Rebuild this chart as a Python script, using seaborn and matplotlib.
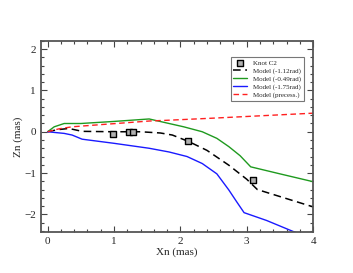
import matplotlib
matplotlib.use("Agg")
import matplotlib.pyplot as plt
import seaborn as sns
import pandas as pd
from matplotlib.ticker import MultipleLocator

# knot positions (mas)
knot_x = [0.99, 1.22, 1.29, 2.11, 3.10]
knot_z = [-0.05, 0.0, 0.0, -0.23, -1.17]

# model with -1.12 rad (black dashed)
m112_x = [0.0, 0.15, 0.32, 0.52, 1.0, 1.4, 1.7, 1.88, 2.13, 2.4, 2.73, 3.0, 3.16, 3.5, 4.0]
m112_z = [0.0, 0.05, 0.08, 0.01, 0.0, 0.0, -0.03, -0.08, -0.24, -0.45, -0.81, -1.15, -1.4, -1.57, -1.82]

# model with -0.49 rad (green)
m049_x = [0.0, 0.1, 0.25, 0.5, 1.0, 1.53, 1.83, 2.05, 2.33, 2.55, 2.73, 2.9, 3.06, 3.5, 4.0]
m049_z = [0.0, 0.12, 0.2, 0.2, 0.25, 0.31, 0.2, 0.12, 0.0, -0.16, -0.36, -0.58, -0.85, -1.02, -1.21]

# model with -1.75 rad (blue)
m175_x = [0.0, 0.25, 0.37, 0.52, 1.0, 1.53, 1.83, 2.1, 2.33, 2.55, 2.73, 2.85, 2.96, 3.3, 3.69, 4.0]
m175_z = [0.0, -0.04, -0.08, -0.18, -0.28, -0.4, -0.49, -0.6, -0.77, -1.02, -1.41, -1.7, -1.96, -2.15, -2.41, -2.6]

# precessing model (red dashed)
prec_x = [0.0, 0.17, 0.37, 0.78, 1.2, 1.53, 1.83, 2.5, 3.0, 3.5, 4.0]
prec_z = [0.0, 0.07, 0.12, 0.17, 0.22, 0.26, 0.28, 0.33, 0.37, 0.41, 0.45]

sns.set_style("ticks")
plt.rcParams['font.family'] = ['Liberation Serif', 'DejaVu Serif']

fig = plt.figure(figsize=(3.53, 2.73), dpi=100)
ax = fig.add_axes([0.116, 0.150, 0.771, 0.700])

sns.scatterplot(x=knot_x, y=knot_z, ax=ax, marker="s", s=22, color="#b0b0b0",
                edgecolor="black", linewidth=1.0, label="Knot C2", zorder=5)
sns.lineplot(x=m112_x, y=m112_z, ax=ax, sort=False, color="black", linewidth=1.1,
             label="Model (-1.12rad)").lines[-1].set_dashes([5, 3])
sns.lineplot(x=m049_x, y=m049_z, ax=ax, sort=False, color="#1f9a1f", linewidth=1.0,
             label="Model (-0.49rad)")
sns.lineplot(x=m175_x, y=m175_z, ax=ax, sort=False, color="#1a1aff", linewidth=1.0,
             label="Model (-1.75rad)")
sns.lineplot(x=prec_x, y=prec_z, ax=ax, sort=False, color="#ff2020", linewidth=1.0,
             label="Model (precess.)").lines[-1].set_dashes([4, 2.5])

ax.set_xlim(-0.1, 4.0)
ax.set_ylim(-2.43, 2.2)
ax.xaxis.set_major_locator(MultipleLocator(1))
ax.xaxis.set_minor_locator(MultipleLocator(0.2))
ax.yaxis.set_major_locator(MultipleLocator(1))
ax.yaxis.set_minor_locator(MultipleLocator(0.2))
ax.tick_params(which="both", direction="in", top=True, right=True, labelsize=8, color="#444444")
ax.tick_params(which="major", length=4, width=0.8)
ax.tick_params(which="minor", length=2, width=0.8)
for sp in ax.spines.values():
    sp.set_color("#555555")
    sp.set_linewidth(1.3)

ax.set_xlabel("Xn (mas)", fontsize=8, labelpad=1)
ax.set_ylabel("Zn (mas)", fontsize=8, labelpad=1)

leg = ax.legend(loc="upper right", bbox_to_anchor=(0.978, 0.932), fontsize=5, frameon=True,
                fancybox=False, edgecolor="#555555", handlelength=2.0, borderpad=0.4,
                labelspacing=0.25, handletextpad=0.8)
leg.get_frame().set_linewidth(0.8)

plt.savefig("out.png", dpi=100)
